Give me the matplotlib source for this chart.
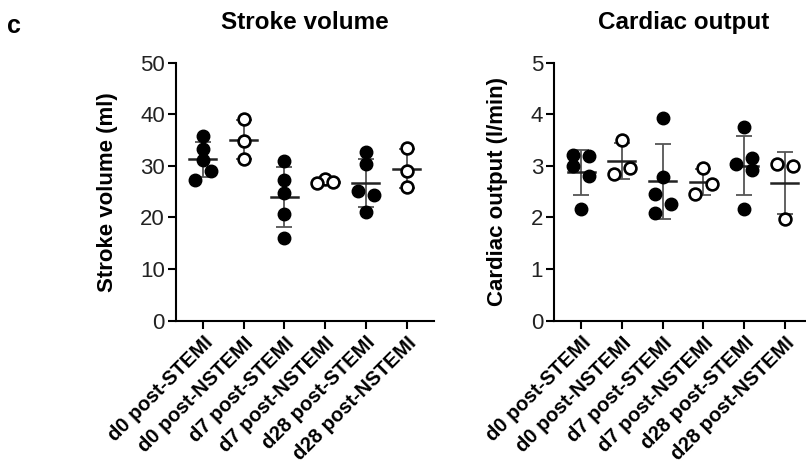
import numpy as np
import matplotlib
matplotlib.use('Agg')
import matplotlib.pyplot as plt

plt.rcParams['font.family'] = ['Liberation Sans', 'DejaVu Sans']

groups = ['d0 post-STEMI', 'd0 post-NSTEMI', 'd7 post-STEMI',
          'd7 post-NSTEMI', 'd28 post-STEMI', 'd28 post-NSTEMI']
open_marker = [False, True, False, True, False, True]

stroke_volume = [
    [35.8, 33.2, 31.2, 29.0, 27.2],
    [39.0, 34.8, 31.4],
    [30.9, 27.2, 24.8, 20.6, 16.0],
    [27.5, 26.8, 26.6],
    [32.6, 30.4, 25.2, 24.4, 21.0],
    [33.5, 29.0, 25.9],
]
cardiac_output = [
    [3.21, 3.19, 3.00, 2.80, 2.16],
    [3.50, 2.84, 2.95],
    [3.92, 2.79, 2.46, 2.27, 2.09],
    [2.95, 2.65, 2.46],
    [3.76, 3.15, 3.03, 2.92, 2.16],
    [3.03, 3.00, 1.97],
]

# horizontal spread of the dots, in category units
sv_jitter = [[0, 0, 0, 0.2, -0.2], [0, 0, 0], [0, 0, 0, 0, 0],
             [0, 0.2, -0.2], [0, 0, -0.2, 0.2, 0], [0, 0, 0]]
co_jitter = [[-0.2, 0.2, -0.2, 0.2, 0], [0, -0.2, 0.2], [0, 0, -0.2, 0.2, -0.2],
             [0, 0.2, -0.2], [0, 0.2, -0.2, 0.2, 0], [-0.2, 0.2, 0]]


def dot_plot(ax, data, jitter, ymax, ystep, title, ylabel):
    for i, vals in enumerate(data):
        vals = np.asarray(vals)
        xs = i + np.asarray(jitter[i])
        m, sd = vals.mean(), vals.std(ddof=1)
        ax.errorbar(i, m, yerr=sd, fmt='none', ecolor='#555555',
                    elinewidth=1.3, capsize=6, capthick=1.3, zorder=2)
        ax.plot([i - 0.33, i + 0.33], [m, m], color='#222222', lw=1.8, zorder=2)
        if open_marker[i]:
            ax.plot(xs, vals, 'o', ms=8.5, mfc='white', mec='black', mew=1.9,
                    linestyle='none', zorder=3)
        else:
            ax.plot(xs, vals, 'o', ms=9, mfc='black', mec='black',
                    linestyle='none', zorder=3)
    ax.set_xlim(-0.66, 5.67)
    ax.set_ylim(0, ymax)
    ax.set_yticks(np.arange(0, ymax + ystep / 2, ystep))
    ax.set_xticks(range(len(groups)))
    ax.set_xticklabels(groups, rotation=45, ha='right', va='top',
                       rotation_mode='anchor', fontweight='bold')
    ax.spines['top'].set_visible(False)
    ax.spines['right'].set_visible(False)
    for s in ('left', 'bottom'):
        ax.spines[s].set_linewidth(1.5)
    ax.tick_params(axis='both', length=6, width=1.5, labelsize=16, pad=2,
                   colors='black', labelcolor='#222222')
    ax.tick_params(axis='x', labelcolor='black', labelsize=14.5, pad=3)
    ax.set_title(title, fontsize=17.5, fontweight='bold', pad=24)
    ax.set_ylabel(ylabel, fontsize=16, fontweight='bold', labelpad=16)


fig = plt.figure(figsize=(8.06, 4.70), dpi=100)
ax1 = fig.add_axes([0.2184, 0.3177, 0.320, 0.549])
ax2 = fig.add_axes([0.6877, 0.3177, 0.320, 0.549])

dot_plot(ax1, stroke_volume, sv_jitter, 50, 10, 'Stroke volume', 'Stroke volume (ml)')
dot_plot(ax2, cardiac_output, co_jitter, 5, 1, 'Cardiac output', 'Cardiac output (l/min)')

fig.text(0.009, 0.93, 'c', fontsize=18, fontweight='bold')

fig.savefig('out.png', dpi=100)
